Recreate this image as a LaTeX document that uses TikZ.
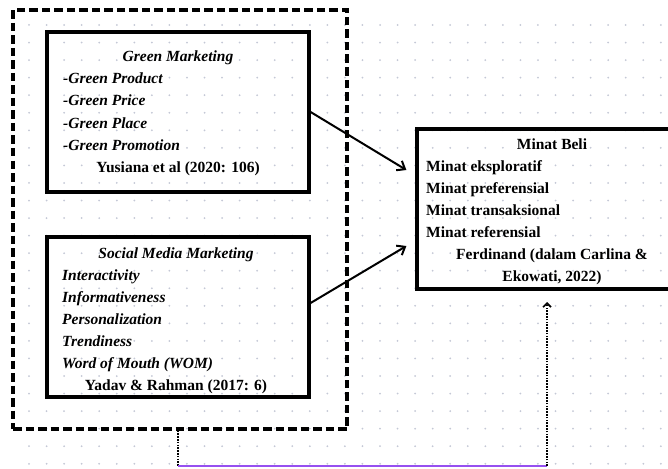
\documentclass[tikz,border=0pt]{standalone}
\usepackage{fontspec}
\setmainfont{Liberation Serif}
\usetikzlibrary{arrows.meta,calc}
\begin{document}
\begin{tikzpicture}[x=1pt,y=-1pt,
  box/.style={draw=black,line width=3.2pt,rectangle,inner sep=0pt},
  frame/.style={draw=black,line width=3.2pt,rectangle,inner sep=0pt,dash pattern=on 8.5pt off 4pt},
  txt/.style={inner sep=0pt,font=\fontsize{15.5}{22}\selectfont\bfseries},
  arr/.style={draw=black,line width=2pt,-{Straight Barb[length=7pt,width=11pt,line width=2pt]}},
  dotline/.style={draw=black,line width=2pt,dash pattern=on 1.6pt off 1.2pt},
]
\useasboundingbox (0,0) rectangle (668,468);
\begin{scope}
\clip (0,0) rectangle (668,468);
\fill[white] (0,0) rectangle (668,468);
\foreach \i in {0,...,37}{
  \foreach \j in {0,...,25}{
    \fill[color={rgb,255:red,196;green,200;blue,214}] ({29+17.55*\i},{25+17.55*\j}) circle (1pt);
  }
}
% outer dashed frame
\node[frame,minimum width=334pt,minimum height=419pt] (frame) at (180,219.5) {};
% boxes
\node[box,minimum width=262pt,minimum height=160pt] (gm) at (178,112) {};
\node[box,minimum width=262pt,minimum height=160pt] (sm) at (178,317) {};
\node[box,minimum width=273pt,minimum height=160pt] (mb) at (553.5,209) {};
% Green Marketing text
\node[txt,anchor=base] (gmT) at (178,62) {\itshape Green Marketing};
\node[txt,anchor=base west] (gm1) at (63,84) {\itshape -Green Product};
\node[txt,anchor=base west] (gm2) at (63,106) {\itshape -Green Price};
\node[txt,anchor=base west] (gm3) at (63,128) {\itshape -Green Place};
\node[txt,anchor=base west] (gm4) at (63,150) {\itshape -Green Promotion};
\node[txt,anchor=base] (gmS) at (178,172) {Yusiana et al (2020: 106)};
% Social Media Marketing text
\node[txt,anchor=base] (smT) at (176,258) {\itshape Social Media Marketing};
\node[txt,anchor=base west] (sm1) at (62,280) {\itshape Interactivity};
\node[txt,anchor=base west] (sm2) at (62,302) {\itshape Informativeness};
\node[txt,anchor=base west] (sm3) at (62,324) {\itshape Personalization};
\node[txt,anchor=base west] (sm4) at (62,346) {\itshape Trendiness};
\node[txt,anchor=base west] (sm5) at (62,368) {\itshape Word of Mouth (WOM)};
\node[txt,anchor=base] (smS) at (176,390) {Yadav \& Rahman (2017: 6)};
% Minat Beli text
\node[txt,anchor=base] (mbT) at (552,149) {Minat Beli};
\node[txt,anchor=base west] (mb1) at (426,171) {Minat eksploratif};
\node[txt,anchor=base west] (mb2) at (426,193) {Minat preferensial};
\node[txt,anchor=base west] (mb3) at (426,215) {Minat transaksional};
\node[txt,anchor=base west] (mb4) at (426,237) {Minat referensial};
\node[txt,anchor=base] (mbS1) at (552,259) {Ferdinand (dalam Carlina \&};
\node[txt,anchor=base] (mbS2) at (552,281) {Ekowati, 2022)};
% connectors
\draw[arr] (gm.east) -- ($(mb.west)+(-9,-39)$);
\draw[arr] ($(sm.east)+(0,-14)$) -- ($(mb.west)+(-9,37)$);
\coordinate (c1) at (178,466);
\coordinate (c2) at (547,466);
\coordinate (c3) at (547,302);
\draw[dotline] (frame.south -| c1) -- (c1);
\draw[line width=2.6pt,color={rgb,255:red,150;green,80;blue,240}] (c1) -- (c2);
\draw[dotline,-{Straight Barb[length=4pt,width=8pt,line width=1.6pt]}] (c2) -- (c3);
\end{scope}
\end{tikzpicture}
\end{document}
